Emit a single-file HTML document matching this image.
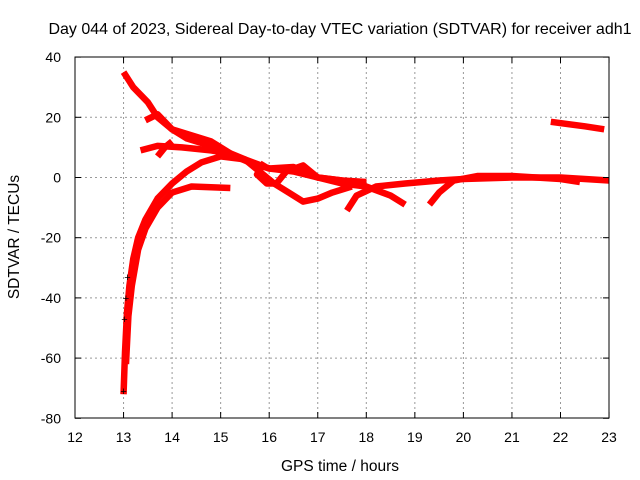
<!DOCTYPE html>
<html><head><meta charset="utf-8"><style>
body{margin:0;background:#fff;}
svg{display:block;font-family:"Liberation Sans",sans-serif;}
</style></head><body>
<svg id="chart" width="640" height="480" xmlns="http://www.w3.org/2000/svg">
<rect width="640" height="480" fill="#fff"/>
<text x="340" y="34" font-size="16" text-anchor="middle">Day 044 of 2023, Sidereal Day-to-day VTEC variation (SDTVAR) for receiver adh1</text>
<text x="340" y="471" font-size="15.5" text-anchor="middle">GPS time / hours</text>
<text transform="translate(19,237) rotate(-90)" font-size="15.5" text-anchor="middle">SDTVAR / TECUs</text>
<g id="grid"></g><g id="series"></g><g id="axes"></g>
</svg>
<script>
const xTicks=[12,13,14,15,16,17,18,19,20,21,22,23];
const yTicks=[40,20,0,-20,-40,-60,-80];
const seriesA=[[13.0,35],[13.2,30],[13.5,25],[13.7,20],[14.0,16],[14.3,13],[14.7,11],[15.0,9],[15.3,7],[15.6,5],[16.0,3],[16.5,2],[17.0,0],[17.5,-1],[18.0,-1.5]];
const seriesB=[[13.35,9],[13.7,10.5],[14.2,10],[14.8,9],[15.2,8],[15.5,6],[15.8,2],[16.1,-2],[16.4,-5],[16.7,-8],[17.0,-7],[17.3,-5],[17.7,-3]];
const seriesB2=[[13.45,19],[13.7,21],[14.0,16],[14.4,14],[14.8,12],[15.2,8]];
const seriesB3=[[13.7,7],[13.85,10],[14.0,12]];
const seriesC=[[13.0,-72],[13.03,-58],[13.07,-45],[13.12,-36],[13.2,-27],[13.3,-20],[13.45,-14],[13.7,-7],[14.0,-2],[14.3,2],[14.6,5],[15.0,7],[15.5,6],[16.0,3],[16.5,3.5],[17.0,0],[17.5,-2],[18.0,-3],[18.5,-6],[18.8,-9]];
const seriesD=[[13.05,-62],[13.1,-46],[13.17,-36],[13.3,-24],[13.45,-17],[13.7,-10],[14.0,-5],[14.4,-3],[15.2,-3.5]];
const seriesE=[[15.9,5],[15.75,1],[15.95,-2],[16.15,-2],[16.35,2],[16.7,4],[17.0,0],[17.5,-1],[18.0,-2]];
const seriesF=[[17.6,-11],[17.8,-6],[18.2,-3],[18.8,-2],[19.5,-1],[20.0,-0.5],[21.0,0],[22.0,0],[23.0,-1]];
const seriesG=[[19.3,-9],[19.5,-5],[19.8,-1],[20.3,0.5],[21.0,0.5],[22.0,-0.5],[22.4,-1.5]];
const seriesH=[[21.8,18.5],[22.5,17],[22.9,16]];
const blackPts=[[13.0,-71],[13.02,-47],[13.05,-40],[13.08,-33]];
const allSeries=[seriesA,seriesB,seriesB2,seriesB3,seriesC,seriesD,seriesE,seriesF,seriesG,seriesH];

const X=h=>75+(h-12)*48.55, Y=v=>177.5-v*3.01;
const NS="http://www.w3.org/2000/svg";
function mk(t,a,p){const e=document.createElementNS(NS,t);for(const k in a)e.setAttribute(k,a[k]);p.appendChild(e);return e;}
const grid=document.getElementById('grid'),axes=document.getElementById('axes'),ser=document.getElementById('series');
xTicks.forEach(t=>{const x=X(t);
 if(t>12&&t<23){const l=mk('line',{x1:x,x2:x,y1:57,y2:418,stroke:'#999','stroke-dasharray':'2,3'},grid);
 
 }
 mk('line',{x1:x,x2:x,y1:418,y2:412,stroke:'#000'},axes);mk('line',{x1:x,x2:x,y1:57,y2:63,stroke:'#000'},axes);
 const tx=mk('text',{x:x,y:442,'font-size':14,'text-anchor':'middle'},axes);tx.textContent=t;
 
 });
yTicks.forEach(t=>{const y=Y(t);
 if(t<40&&t>-80){const l=mk('line',{x1:75,x2:609,y1:y,y2:y,stroke:'#999','stroke-dasharray':'2,3'},grid);
 
 }
 mk('line',{x1:75,x2:81,y1:y,y2:y,stroke:'#000'},axes);mk('line',{x1:609,x2:603,y1:y,y2:y,stroke:'#000'},axes);
 const tx=mk('text',{x:61,y:y+5,'font-size':14,'text-anchor':'end'},axes);tx.textContent=t;
 
 });
const fr=mk('rect',{x:75,y:57,width:534,height:361,fill:'none',stroke:'#000'},axes);


allSeries.forEach(s=>{const p=mk('polyline',{points:s.map(d=>X(d[0])+','+Y(d[1])).join(' '),fill:'none',stroke:'#f00','stroke-width':6.5,'stroke-linejoin':'round'},ser);
 
 });
blackPts.forEach(d=>{const t=mk('text',{x:X(d[0]),y:Y(d[1])+4,'font-size':11,'text-anchor':'middle',fill:'#000'},ser);t.textContent='+';
 
 });
</script>
</body></html>
